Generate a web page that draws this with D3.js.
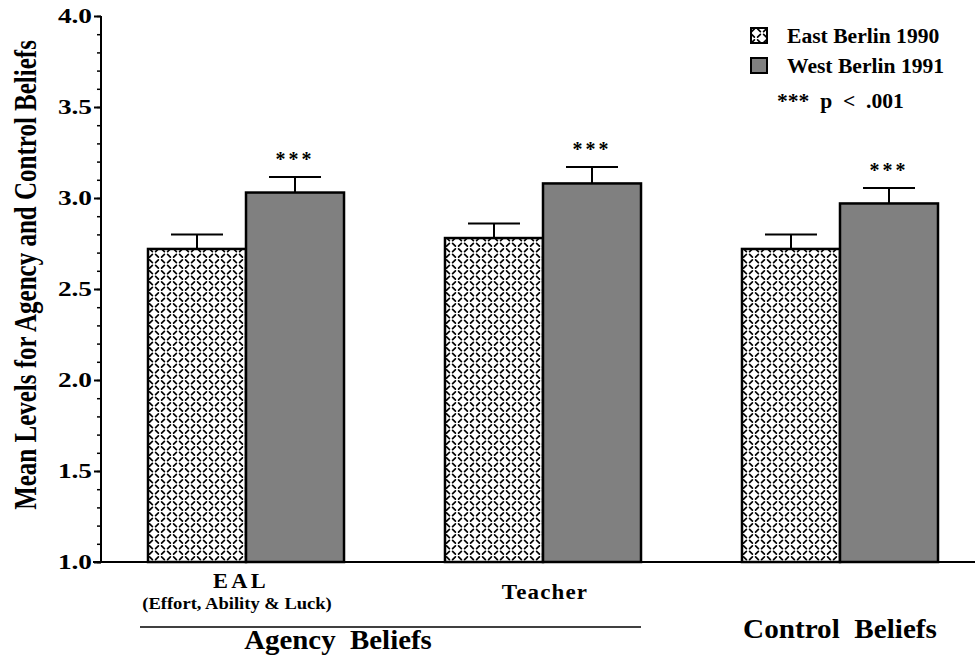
<!DOCTYPE html>
<html>
<head>
<meta charset="utf-8">
<script src="https://cdn.jsdelivr.net/npm/d3@7"></script>
<style>
  html, body { margin: 0; padding: 0; background: #fff; }
  svg { display: block; }
  text { font-family: "Liberation Serif", "Times New Roman", serif; font-weight: bold; fill: #000; }
</style>
</head>
<body>
<svg id="chart" width="975" height="657"></svg>
<script>
// ---- data ----
const categories = ["EAL", "Teacher", "Control"];
const seriesNames = ["East Berlin 1990", "West Berlin 1991"];
const eastValues = [2.72, 2.78, 2.72];
const westValues = [3.03, 3.08, 2.97];
const eastErrors = [0.08, 0.08, 0.08];
const westErrors = [0.085, 0.09, 0.085];
const significance = ["***", "***", "***"];
const yTicks = [1.0, 1.5, 2.0, 2.5, 3.0, 3.5, 4.0];

const svg = d3.select("#chart");

// helper: text with horizontal stretch (matches the wide scanned type)
function label(parent, x, y, str, size, sx, anchor, spacing) {
  const t = parent.append("text")
    .attr("transform", `translate(${x},${y}) scale(${sx},1)`)
    .attr("text-anchor", anchor || "start")
    .attr("font-size", size)
    .style("white-space", "pre")
    .text(str);
  if (spacing) t.attr("letter-spacing", spacing);
  return t;
}

// pattern for East Berlin bars
const defs = svg.append("defs");
const pat = defs.append("pattern")
  .attr("id", "eastPat").attr("patternUnits", "userSpaceOnUse")
  .attr("width", 12).attr("height", 11);
pat.append("rect").attr("width", 12).attr("height", 11).attr("fill", "#fff");
const marks = [
  [3, 2.75, 1], [9, 2.75, -1], [3, 8.25, -1], [9, 8.25, 1]
];
marks.forEach(m => pat.append("line")
  .attr("x1", m[0] - 1.4).attr("y1", m[1] + 1.4 * m[2])
  .attr("x2", m[0] + 1.4).attr("y2", m[1] - 1.4 * m[2])
  .attr("stroke", "#000").attr("stroke-width", 1.7).attr("stroke-linecap", "round"));

const y = d3.scaleLinear().domain([1, 4]).range([562, 16]);
const x0 = d3.scaleBand().domain(categories).range([148, 938]).paddingInner(0.34).paddingOuter(0);
const x1 = d3.scaleBand().domain(seriesNames).range([0, x0.bandwidth()]).padding(0);

const data = categories.map((c, i) => ({
  cat: c,
  bars: [
    { s: seriesNames[0], v: eastValues[i], e: eastErrors[i] },
    { s: seriesNames[1], v: westValues[i], e: westErrors[i] }
  ],
  sig: significance[i]
}));

// baseline
svg.append("line").attr("x1", 93).attr("x2", 975).attr("y1", y(1)).attr("y2", y(1))
  .attr("stroke", "#000").attr("stroke-width", 2);

// y axis with minor ticks
const minorTicks = d3.range(10, 41).map(d => d / 10);
const axisMinor = d3.axisLeft(y).tickValues(minorTicks).tickSize(4).tickFormat("");
const gMinor = svg.append("g").attr("transform", "translate(101,0)").call(axisMinor);
gMinor.select(".domain").remove();
gMinor.selectAll("line").attr("stroke", "#000").attr("stroke-width", 1.5);

const axisMajor = d3.axisLeft(y).tickValues(yTicks).tickSize(7).tickPadding(3).tickFormat(d3.format(".1f"));
const gMajor = svg.append("g").attr("transform", "translate(101,0)").call(axisMajor);
gMajor.attr("font-family", null).attr("font-size", null);
gMajor.select(".domain").attr("stroke", "#000").attr("stroke-width", 2).attr("d", `M0,${y(4)}V${y(1)}`);
gMajor.selectAll("line").attr("stroke", "#000").attr("stroke-width", 2);
gMajor.selectAll("text")
  .attr("font-size", 21).attr("font-family", "Liberation Serif").attr("font-weight", "bold")
  .attr("fill", "#000").attr("x", -9 / 1.3).attr("transform", "scale(1.3,1)");

// bars
const groups = svg.append("g").selectAll("g").data(data).join("g")
  .attr("transform", d => `translate(${x0(d.cat)},0)`);

groups.selectAll("rect").data(d => d.bars).join("rect")
  .attr("x", d => x1(d.s))
  .attr("y", d => y(d.v))
  .attr("width", x1.bandwidth())
  .attr("height", d => y(1) - y(d.v))
  .attr("fill", (d, i) => i === 0 ? "url(#eastPat)" : "#808080")
  .attr("stroke", "#000").attr("stroke-width", 2.5);

// error bars
groups.selectAll("g.err").data(d => d.bars).join("g").attr("class", "err").each(function(d) {
  const g = d3.select(this);
  const cx = x1(d.s) + x1.bandwidth() / 2;
  g.append("line").attr("x1", cx).attr("x2", cx).attr("y1", y(d.v)).attr("y2", y(d.v + d.e))
    .attr("stroke", "#000").attr("stroke-width", 2);
  g.append("line").attr("x1", cx - 26).attr("x2", cx + 26).attr("y1", y(d.v + d.e)).attr("y2", y(d.v + d.e))
    .attr("stroke", "#000").attr("stroke-width", 2);
});

// significance stars
groups.each(function(d) {
  const b = d.bars[1];
  label(d3.select(this), x1(b.s) + x1.bandwidth() / 2, y(b.v + b.e) - 11, d.sig, 20, 1, "middle", 3);
});

// category labels
const labelX = c => x0(c) + x0.bandwidth() / 2;
label(svg, labelX("EAL") - 5, 588, "EAL", 20, 1.12, "middle", 3);
label(svg, labelX("EAL") - 9, 609, "(Effort, Ability & Luck)", 16, 1.16, "middle");
label(svg, labelX("Teacher") + 2, 599, "Teacher", 20, 1.15, "middle", 1);

svg.append("line").attr("x1", 140).attr("x2", 641).attr("y1", 627).attr("y2", 627)
  .attr("stroke", "#000").attr("stroke-width", 1.5);
label(svg, 338, 649, "Agency  Beliefs", 27, 1.07, "middle");
label(svg, labelX("Control"), 638, "Control  Beliefs", 27, 1.08, "middle");

// y axis title
svg.append("text").attr("transform", "translate(36,275) rotate(-90) scale(1,1.3)")
  .attr("text-anchor", "middle").attr("font-size", 25).text("Mean Levels for Agency and Control Beliefs");

// legend
const legend = svg.append("g");
seriesNames.forEach((s, i) => {
  const ly = 28 + i * 30;
  legend.append("rect").attr("x", 751).attr("y", ly).attr("width", 16).attr("height", 15)
    .attr("fill", i === 0 ? "url(#eastPat)" : "#808080").attr("stroke", "#000").attr("stroke-width", 2);
  label(legend, 787, ly + 15, s, 20, 1.08);
});
label(legend, 777, 108, "***  p  <  .001", 20, 1.08);
</script>
</body>
</html>
